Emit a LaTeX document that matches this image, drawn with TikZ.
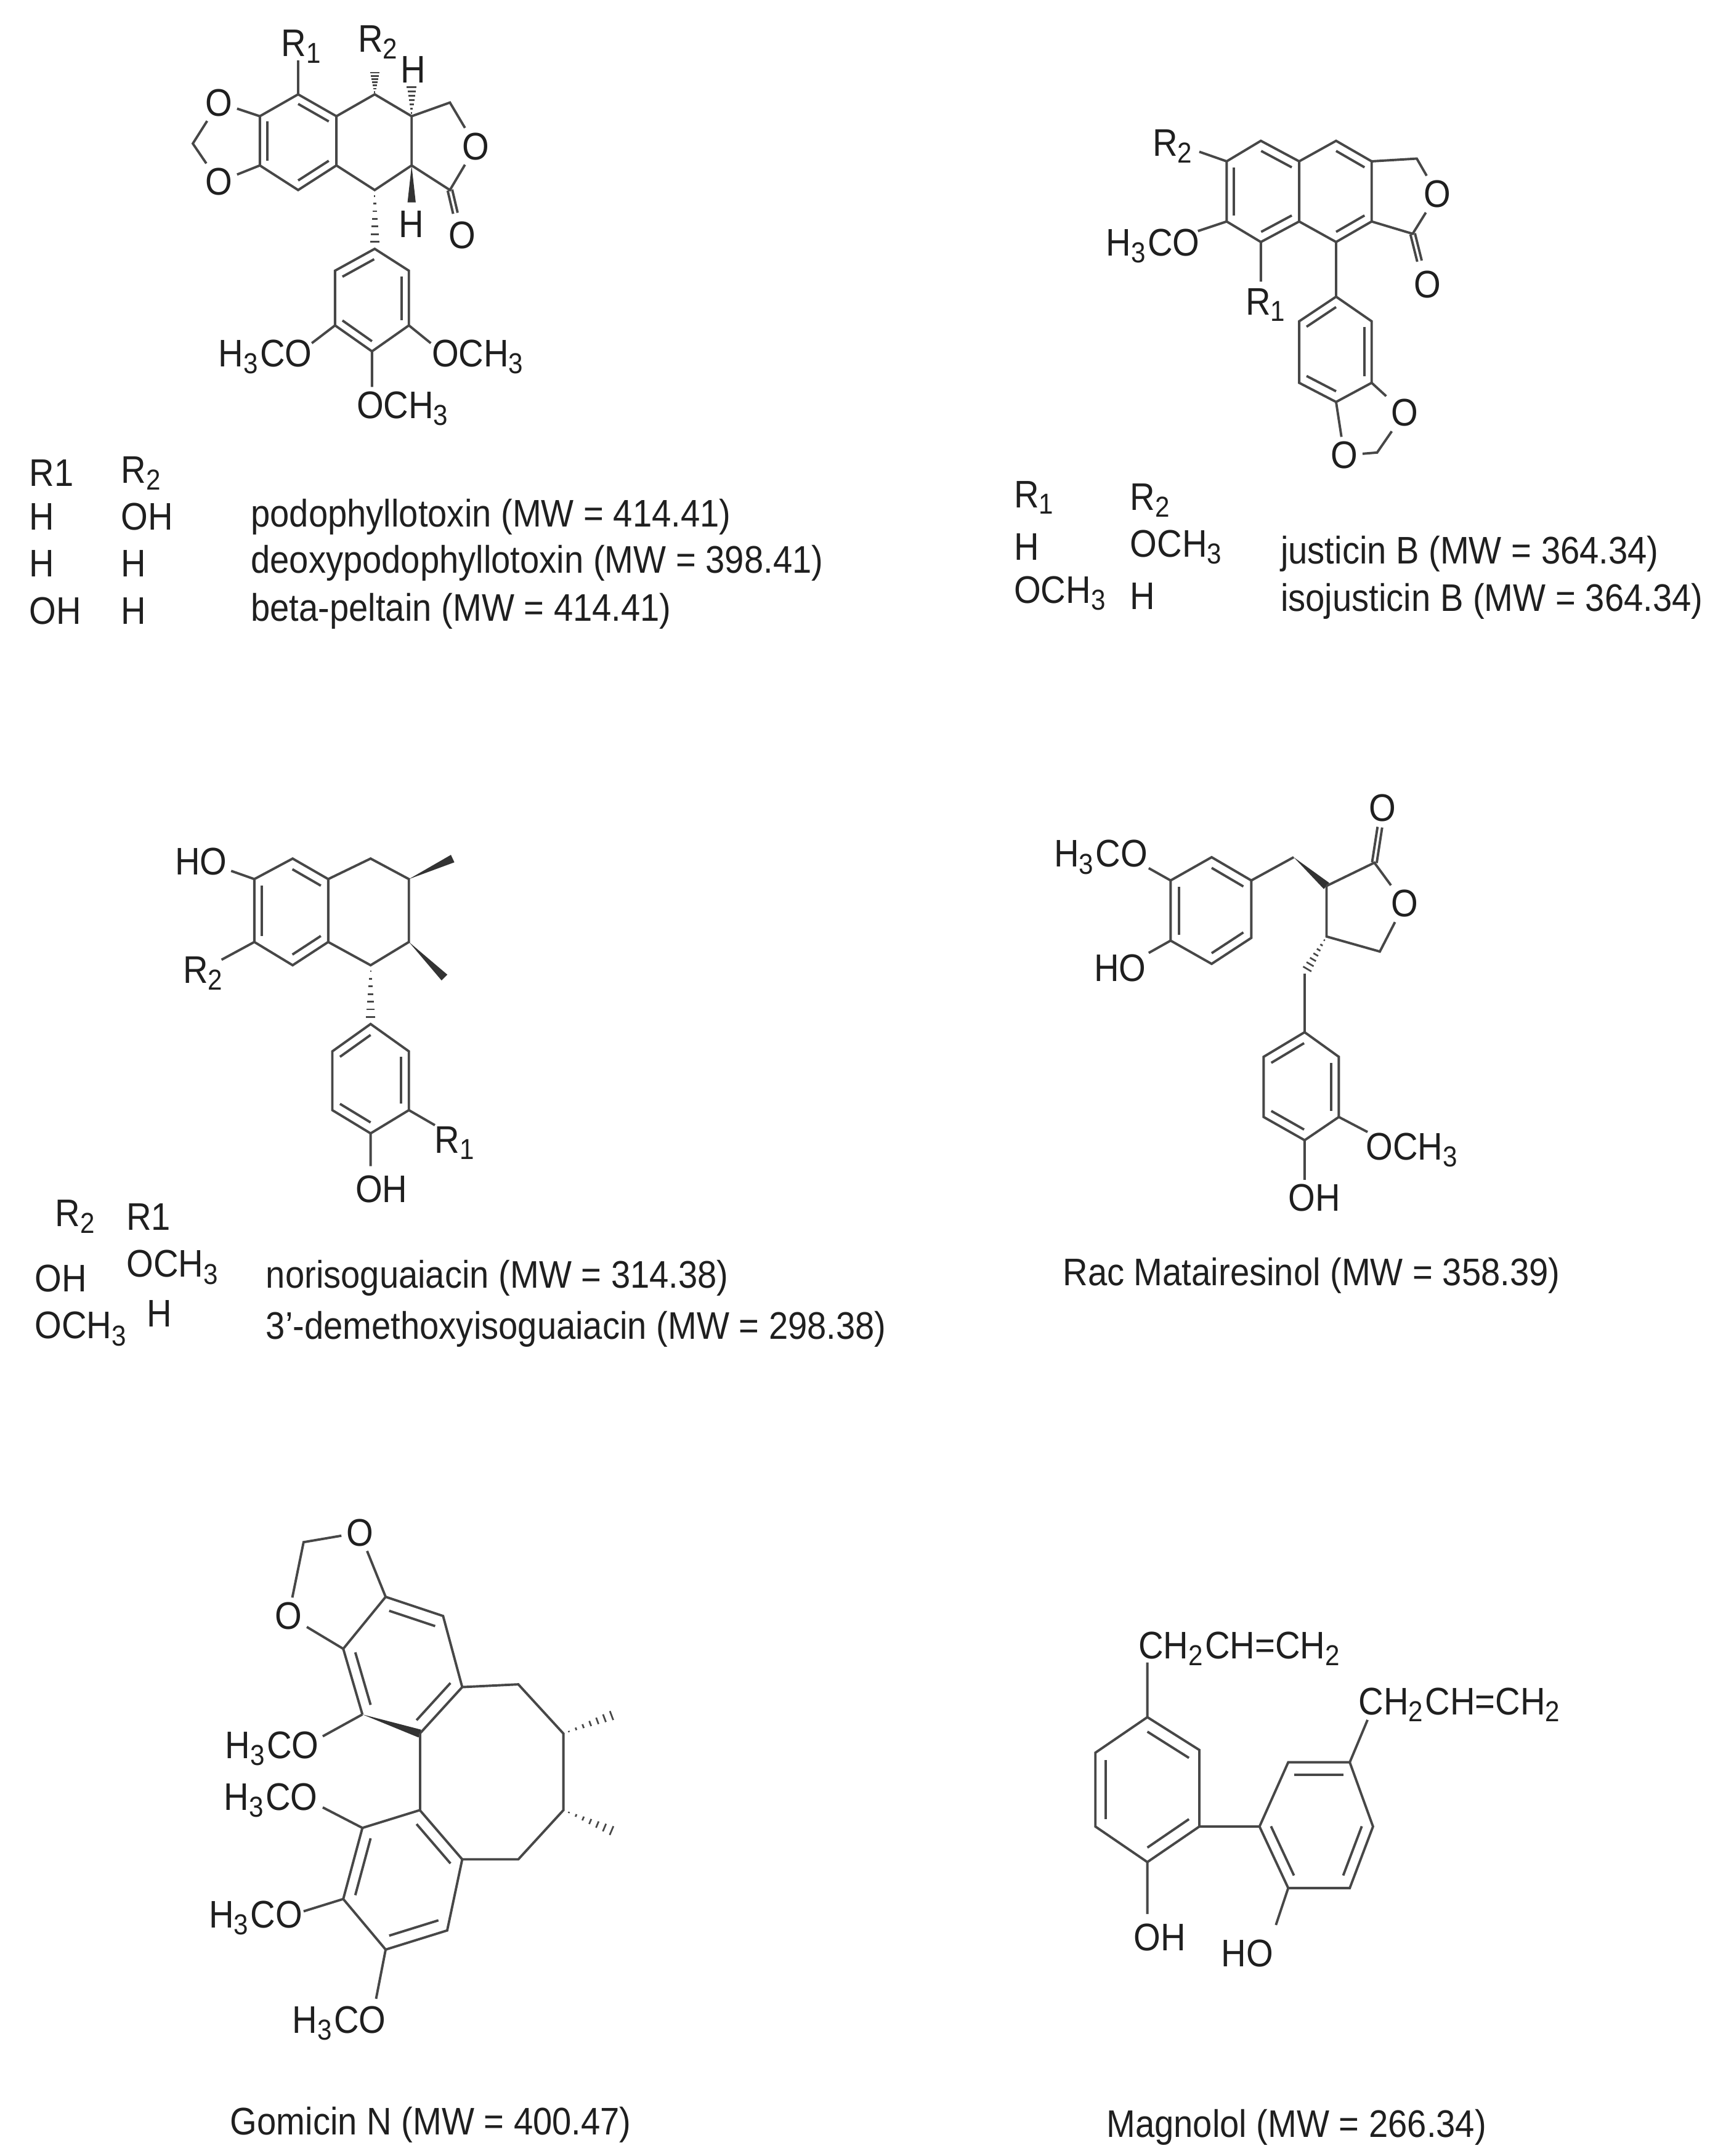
\documentclass[tikz,border=0pt]{standalone}
\usepackage{fontspec}
\setmainfont{Liberation Sans}
\usetikzlibrary{calc}
\newcommand\sbs[1]{\textsubscript{#1}}
\newcommand\tx[1]{\scalebox{0.9}[1]{#1}}
\tikzset{
  bond/.style={draw=black!72,line width=0.5pt},
  lbl/.style={inner sep=0.8pt,text=black!88,font=\fontsize{8}{9}\selectfont},
  lw/.style={lbl,anchor=west}
}
\newcommand\dbl[3]{\draw[bond] ($(#1)!0.2!(#3)$) -- ($(#2)!0.2!(#3)$);}
\newcommand\dblb[2]{\draw[bond] ($(#1)!0.17mm!90:(#2)$) -- ($(#2)!0.17mm!-90:(#1)$);
  \draw[bond] ($(#1)!0.17mm!-90:(#2)$) -- ($(#2)!0.17mm!90:(#1)$);}
\newcommand\hashb[2]{\foreach \t/\w in {0.1/0.05,0.23/0.1,0.36/0.15,0.49/0.2,0.62/0.25,0.75/0.3,0.88/0.35}{%
  \draw[bond,line width=0.35pt] ($(#1)!\t!(#2)!\w mm!90:(#2)$) -- ($(#1)!\t!(#2)!\w mm!-90:(#2)$);}}
\newcommand\wedgeb[2]{\fill[black!80] (#1) -- ($(#2)!0.3mm!90:(#1)$) -- ($(#2)!0.3mm!-90:(#1)$) -- cycle;}
\begin{document}
\begin{tikzpicture}[x=0.1mm,y=-0.1mm]
\useasboundingbox[fill=white] (0,0) rectangle (1250,1577);

% ================= Structure 1: podophyllotoxin family
\coordinate (s1a1) at (218,69); \coordinate (s1a2) at (246,85); \coordinate (s1a3) at (246,121);
\coordinate (s1a4) at (218,139); \coordinate (s1a5) at (190,121); \coordinate (s1a6) at (190,85);
\coordinate (s1cA) at (218,104);
\coordinate (s1b1) at (274,69); \coordinate (s1b2) at (301,85); \coordinate (s1b3) at (301,121); \coordinate (s1b4) at (274,139);
\coordinate (s1l1) at (329,75); \coordinate (s1l3) at (329,139); \coordinate (s1l4) at (333,156);
\coordinate (s1r1) at (218,44); \coordinate (s1h2) at (274,51); \coordinate (s1h3) at (301,61); \coordinate (s1wH) at (301,148);
\coordinate (s1c1) at (274,182); \coordinate (s1c2) at (299,198); \coordinate (s1c3) at (299,238);
\coordinate (s1c4) at (272,257); \coordinate (s1c5) at (245,238); \coordinate (s1c6) at (245,198); \coordinate (s1cC) at (272,220);
\coordinate (s1m1) at (228,251); \coordinate (s1m2) at (315,251); \coordinate (s1m3) at (272,283);
\coordinate (s1d) at (141,105);
\node[lbl] (s1O1) at (160,75) {\tx{O}};
\node[lbl] (s1O2) at (160,133) {\tx{O}};
\node[lbl] (s1O3) at (348,107) {\tx{O}};
\node[lbl] (s1O4) at (338,172) {\tx{O}};
\node[lbl] (s1R1) at (221,34) {\tx{R\sbs{1}}};
\node[lbl] (s1R2) at (277,31) {\tx{R\sbs{2}}};
\node[lbl] (s1H1) at (302,51) {\tx{H}};
\node[lbl] (s1H2) at (301,164) {\tx{H}};
\node[lbl] (s1M1) at (194,261) {\tx{H\sbs{3}CO}};
\node[lbl] (s1M2) at (350,261) {\tx{OCH\sbs{3}}};
\node[lbl] (s1M3) at (295,299) {\tx{OCH\sbs{3}}};
\draw[bond] (s1a1)--(s1a2)--(s1a3)--(s1a4)--(s1a5)--(s1a6)--cycle;
\dbl{s1a1}{s1a2}{s1cA} \dbl{s1a3}{s1a4}{s1cA} \dbl{s1a5}{s1a6}{s1cA}
\draw[bond] (s1a2)--(s1b1)--(s1b2)--(s1b3)--(s1b4)--(s1a3);
\draw[bond] (s1a1)--(s1r1);
\hashb{s1b1}{s1h2} \hashb{s1b2}{s1h3}
\draw[bond] (s1b2)--(s1l1)--(s1O3)--(s1l3)--(s1b3);
\dblb{s1l3}{s1l4}
\wedgeb{s1b3}{s1wH}
\draw[bond] (s1a6)--(s1O1)--(s1d)--(s1O2)--(s1a5);
\hashb{s1b4}{s1c1}
\draw[bond] (s1c1)--(s1c2)--(s1c3)--(s1c4)--(s1c5)--(s1c6)--cycle;
\dbl{s1c1}{s1c6}{s1cC} \dbl{s1c2}{s1c3}{s1cC} \dbl{s1c4}{s1c5}{s1cC}
\draw[bond] (s1c5)--(s1m1) (s1c3)--(s1m2) (s1c4)--(s1m3);
% table 1
\node[lw] (t1a) at (18,346) {\tx{R1}};
\node[lw] (t1b) at (85,346) {\tx{R\sbs{2}}};
\node[lw] (t1c) at (18,378) {\tx{H}};
\node[lw] (t1d) at (85,378) {\tx{OH}};
\node[lw] (t1e) at (180,378) {\tx{podophyllotoxin (MW = 414.41)}};
\node[lw] (t1f) at (18,412) {\tx{H}};
\node[lw] (t1g) at (85,412) {\tx{H}};
\node[lw] (t1h) at (180,412) {\tx{deoxypodophyllotoxin (MW = 398.41)}};
\node[lw] (t1i) at (18,447) {\tx{OH}};
\node[lw] (t1j) at (85,447) {\tx{H}};
\node[lw] (t1k) at (180,447) {\tx{beta-peltain (MW = 414.41)}};

% ================= Structure 2: justicin B
\coordinate (s2p1) at (922,103); \coordinate (s2p2) at (950,118); \coordinate (s2p3) at (950,162);
\coordinate (s2p4) at (922,177); \coordinate (s2p5) at (897,162); \coordinate (s2p6) at (897,118); \coordinate (s2cP) at (923,140);
\coordinate (s2q1) at (977,103); \coordinate (s2q2) at (1003,118); \coordinate (s2q3) at (1003,162); \coordinate (s2q4) at (977,177); \coordinate (s2cQ) at (977,140);
\coordinate (s2l1) at (1036,116); \coordinate (s2l3) at (1033,171); \coordinate (s2l4) at (1038,191);
\coordinate (s2e1) at (877,111); \coordinate (s2e2) at (876,169); \coordinate (s2e3) at (922,206);
\coordinate (s2r1) at (977,217); \coordinate (s2r2) at (1003,235); \coordinate (s2r3) at (1003,280);
\coordinate (s2r4) at (977,294); \coordinate (s2r5) at (950,280); \coordinate (s2r6) at (950,235); \coordinate (s2cR) at (977,255);
\coordinate (s2d) at (1007,331);
\node[lbl] (s2O1) at (1051,142) {\tx{O}};
\node[lbl] (s2O2) at (1044,208) {\tx{O}};
\node[lbl] (s2O3) at (1027,302) {\tx{O}};
\node[lbl] (s2O4) at (983,333) {\tx{O}};
\node[lbl] (s2R2) at (858,107) {\tx{R\sbs{2}}};
\node[lbl] (s2M) at (843,180) {\tx{H\sbs{3}CO}};
\node[lbl] (s2R1) at (926,223) {\tx{R\sbs{1}}};
\draw[bond] (s2p1)--(s2p2)--(s2p3)--(s2p4)--(s2p5)--(s2p6)--cycle;
\dbl{s2p1}{s2p2}{s2cP} \dbl{s2p5}{s2p6}{s2cP} \dbl{s2p3}{s2p4}{s2cP}
\draw[bond] (s2p2)--(s2q1)--(s2q2)--(s2q3)--(s2q4)--(s2p3);
\dbl{s2q1}{s2q2}{s2cQ} \dbl{s2q3}{s2q4}{s2cQ}
\draw[bond] (s2q2)--(s2l1)--(s2O1)--(s2l3)--(s2q3);
\dblb{s2l3}{s2l4}
\draw[bond] (s2p6)--(s2e1) (s2p5)--(s2e2) (s2p4)--(s2e3) (s2q4)--(s2r1);
\draw[bond] (s2r1)--(s2r2)--(s2r3)--(s2r4)--(s2r5)--(s2r6)--cycle;
\dbl{s2r1}{s2r6}{s2cR} \dbl{s2r2}{s2r3}{s2cR} \dbl{s2r4}{s2r5}{s2cR}
\draw[bond] (s2r3)--(s2O3)--(s2d)--(s2O4)--(s2r4);
% table 2
\node[lw] (t2a) at (738,364) {\tx{R\sbs{1}}};
\node[lw] (t2b) at (823,366) {\tx{R\sbs{2}}};
\node[lw] (t2c) at (738,400) {\tx{H}};
\node[lw] (t2d) at (823,400) {\tx{OCH\sbs{3}}};
\node[lw] (t2e) at (933,405) {\tx{justicin B (MW = 364.34)}};
\node[lw] (t2f) at (738,434) {\tx{OCH\sbs{3}}};
\node[lw] (t2g) at (823,436) {\tx{H}};
\node[lw] (t2h) at (933,440) {\tx{isojusticin B (MW = 364.34)}};

% ================= Structure 3: isoguaiacins
\coordinate (s3a1) at (214,628); \coordinate (s3a2) at (240,643); \coordinate (s3a3) at (240,689);
\coordinate (s3a4) at (214,706); \coordinate (s3a5) at (186,689); \coordinate (s3a6) at (186,643); \coordinate (s3cA) at (213,667);
\coordinate (s3b1) at (271,628); \coordinate (s3b2) at (299,643); \coordinate (s3b3) at (299,689); \coordinate (s3b4) at (271,706);
\coordinate (s3w1) at (331,628); \coordinate (s3w2) at (325,715);
\coordinate (s3e1) at (169,637); \coordinate (s3e2) at (162,702);
\coordinate (s3c1) at (271,749); \coordinate (s3c2) at (299,769); \coordinate (s3c3) at (299,812);
\coordinate (s3c4) at (271,829); \coordinate (s3c5) at (243,812); \coordinate (s3c6) at (243,769); \coordinate (s3cC) at (271,789);
\coordinate (s3e3) at (318,823); \coordinate (s3e4) at (271,853);
\node[lbl] (s3HO) at (147,630) {\tx{HO}};
\node[lbl] (s3R2) at (149,712) {\tx{R\sbs{2}}};
\node[lbl] (s3R1) at (333,836) {\tx{R\sbs{1}}};
\node[lbl] (s3OH) at (279,870) {\tx{OH}};
\draw[bond] (s3a1)--(s3a2)--(s3a3)--(s3a4)--(s3a5)--(s3a6)--cycle;
\dbl{s3a1}{s3a2}{s3cA} \dbl{s3a5}{s3a6}{s3cA} \dbl{s3a3}{s3a4}{s3cA}
\draw[bond] (s3a2)--(s3b1)--(s3b2)--(s3b3)--(s3b4)--(s3a3);
\wedgeb{s3b2}{s3w1} \wedgeb{s3b3}{s3w2}
\draw[bond] (s3a6)--(s3e1) (s3a5)--(s3e2);
\hashb{s3b4}{s3c1}
\draw[bond] (s3c1)--(s3c2)--(s3c3)--(s3c4)--(s3c5)--(s3c6)--cycle;
\dbl{s3c1}{s3c6}{s3cC} \dbl{s3c2}{s3c3}{s3cC} \dbl{s3c4}{s3c5}{s3cC}
\draw[bond] (s3c3)--(s3e3) (s3c4)--(s3e4);
% table 3
\node[lw] (t3a) at (37,890) {\tx{R\sbs{2}}};
\node[lw] (t3b) at (89,890) {\tx{R1}};
\node[lw] (t3c) at (22,935) {\tx{OH}};
\node[lw] (t3d) at (89,927) {\tx{OCH\sbs{3}}};
\node[lw] (t3e) at (191,935) {\tx{norisoguaiacin (MW = 314.38)}};
\node[lw] (t3f) at (22,972) {\tx{OCH\sbs{3}}};
\node[lw] (t3g) at (104,961) {\tx{H}};
\node[lw] (t3h) at (191,972) {\tx{3'-demethoxyisoguaiacin (MW = 298.38)}};

% ================= Structure 4: Rac Matairesinol
\coordinate (s4a1) at (886,627); \coordinate (s4a2) at (915,644); \coordinate (s4a3) at (915,686);
\coordinate (s4a4) at (886,705); \coordinate (s4a5) at (856,688); \coordinate (s4a6) at (856,644); \coordinate (s4cA) at (886,666);
\coordinate (s4e1) at (840,635); \coordinate (s4e2) at (840,697);
\coordinate (s4k) at (946,627); \coordinate (s4l3) at (970,648); \coordinate (s4l1) at (1005,631); \coordinate (s4l2) at (1009,605);
\coordinate (s4l5) at (1009,696); \coordinate (s4l4) at (970,685);
\coordinate (s4h) at (954,712);
\coordinate (s4c1) at (954,755); \coordinate (s4c2) at (979,773); \coordinate (s4c3) at (979,817);
\coordinate (s4c4) at (954,834); \coordinate (s4c5) at (924,817); \coordinate (s4c6) at (924,773); \coordinate (s4cC) at (952,795);
\coordinate (s4e3) at (1000,828); \coordinate (s4e4) at (954,863);
\node[lbl] (s4M1) at (805,627) {\tx{H\sbs{3}CO}};
\node[lbl] (s4HO) at (819,708) {\tx{HO}};
\node[lbl] (s4O1) at (1011,591) {\tx{O}};
\node[lbl] (s4O2) at (1027,661) {\tx{O}};
\node[lbl] (s4M2) at (1033,841) {\tx{OCH\sbs{3}}};
\node[lbl] (s4OH) at (961,876) {\tx{OH}};
\draw[bond] (s4a1)--(s4a2)--(s4a3)--(s4a4)--(s4a5)--(s4a6)--cycle;
\dbl{s4a1}{s4a2}{s4cA} \dbl{s4a5}{s4a6}{s4cA} \dbl{s4a3}{s4a4}{s4cA}
\draw[bond] (s4a6)--(s4e1) (s4a5)--(s4e2) (s4a2)--(s4k);
\wedgeb{s4k}{s4l3}
\draw[bond] (s4l3)--(s4l1)--(s4O2)--(s4l5)--(s4l4)--(s4l3);
\dblb{s4l1}{s4l2}
\hashb{s4l4}{s4h}
\draw[bond] (s4h)--(s4c1);
\draw[bond] (s4c1)--(s4c2)--(s4c3)--(s4c4)--(s4c5)--(s4c6)--cycle;
\dbl{s4c1}{s4c6}{s4cC} \dbl{s4c2}{s4c3}{s4cC} \dbl{s4c4}{s4c5}{s4cC}
\draw[bond] (s4c3)--(s4e3) (s4c4)--(s4e4);
\node[lbl] (n4) at (959,933) {\tx{Rac Matairesinol (MW = 358.39)}};

% ================= Structure 5: Gomicin N
\coordinate (s5a1) at (282,1168); \coordinate (s5a2) at (324,1182); \coordinate (s5a3) at (338,1234);
\coordinate (s5a4) at (307,1268); \coordinate (s5a5) at (265,1254); \coordinate (s5a6) at (251,1206); \coordinate (s5cA) at (295,1219);
\coordinate (s5d) at (222,1128);
\coordinate (s5b1) at (307,1324); \coordinate (s5b2) at (338,1360); \coordinate (s5b3) at (327,1412);
\coordinate (s5b4) at (282,1426); \coordinate (s5b5) at (251,1389); \coordinate (s5b6) at (265,1337); \coordinate (s5cB) at (295,1375);
\coordinate (s5o1) at (379,1232); \coordinate (s5o2) at (412,1268); \coordinate (s5o3) at (412,1324); \coordinate (s5o4) at (379,1360);
\coordinate (s5h1) at (452,1253); \coordinate (s5h2) at (452,1341);
\coordinate (s5e1) at (236,1270); \coordinate (s5e2) at (236,1322); \coordinate (s5e3) at (222,1398); \coordinate (s5e4) at (275,1462);
\node[lbl] (s5O1) at (263,1121) {\tx{O}};
\node[lbl] (s5O2) at (211,1182) {\tx{O}};
\node[lbl] (s5M1) at (199,1279) {\tx{H\sbs{3}CO}};
\node[lbl] (s5M2) at (198,1317) {\tx{H\sbs{3}CO}};
\node[lbl] (s5M3) at (187,1403) {\tx{H\sbs{3}CO}};
\node[lbl] (s5M4) at (248,1480) {\tx{H\sbs{3}CO}};
\draw[bond] (s5a1)--(s5a2)--(s5a3)--(s5a4) (s5a5)--(s5a6)--(s5a1);
\wedgeb{s5a5}{s5a4}
\dbl{s5a1}{s5a2}{s5cA} \dbl{s5a3}{s5a4}{s5cA} \dbl{s5a5}{s5a6}{s5cA}
\draw[bond] (s5a1)--(s5O1)--(s5d)--(s5O2)--(s5a6);
\draw[bond] (s5a4)--(s5b1);
\draw[bond] (s5b1)--(s5b2)--(s5b3)--(s5b4)--(s5b5)--(s5b6)--cycle;
\dbl{s5b1}{s5b2}{s5cB} \dbl{s5b3}{s5b4}{s5cB} \dbl{s5b5}{s5b6}{s5cB}
\draw[bond] (s5a3)--(s5o1)--(s5o2)--(s5o3)--(s5o4)--(s5b2);
\hashb{s5o2}{s5h1} \hashb{s5o3}{s5h2}
\draw[bond] (s5a5)--(s5e1) (s5b6)--(s5e2) (s5b5)--(s5e3) (s5b4)--(s5e4);
\node[lbl] (n5) at (315,1554) {\tx{Gomicin N (MW = 400.47)}};

% ================= Structure 6: Magnolol
\coordinate (s6a1) at (839,1256); \coordinate (s6a2) at (877,1280); \coordinate (s6a3) at (877,1336);
\coordinate (s6a4) at (839,1362); \coordinate (s6a5) at (801,1336); \coordinate (s6a6) at (801,1282); \coordinate (s6cA) at (839,1309);
\coordinate (s6b1) at (942,1289); \coordinate (s6b2) at (987,1289); \coordinate (s6b3) at (1004,1336);
\coordinate (s6b4) at (987,1381); \coordinate (s6b5) at (942,1381); \coordinate (s6b6) at (921,1336); \coordinate (s6cB) at (963,1335);
\coordinate (s6e1) at (839,1216); \coordinate (s6e2) at (839,1400); \coordinate (s6e3) at (1000,1258); \coordinate (s6e4) at (933,1408);
\node[lbl,anchor=west] (s6A1) at (829,1206) {\tx{CH\sbs{2}CH=CH\sbs{2}}};
\node[lbl,anchor=west] (s6A2) at (990,1247) {\tx{CH\sbs{2}CH=CH\sbs{2}}};
\node[lbl] (s6OH) at (848,1417) {\tx{OH}};
\node[lbl] (s6HO) at (912,1429) {\tx{HO}};
\draw[bond] (s6a1)--(s6a2)--(s6a3)--(s6a4)--(s6a5)--(s6a6)--cycle;
\dbl{s6a1}{s6a2}{s6cA} \dbl{s6a3}{s6a4}{s6cA} \dbl{s6a5}{s6a6}{s6cA}
\draw[bond] (s6b1)--(s6b2)--(s6b3)--(s6b4)--(s6b5)--(s6b6)--cycle;
\dbl{s6b1}{s6b2}{s6cB} \dbl{s6b3}{s6b4}{s6cB} \dbl{s6b5}{s6b6}{s6cB}
\draw[bond] (s6a3)--(s6b6);
\draw[bond] (s6a1)--(s6e1) (s6a4)--(s6e2) (s6b2)--(s6e3) (s6b5)--(s6e4);
\node[lbl] (n6) at (948,1556) {\tx{Magnolol (MW = 266.34)}};
\end{tikzpicture}
\end{document}
